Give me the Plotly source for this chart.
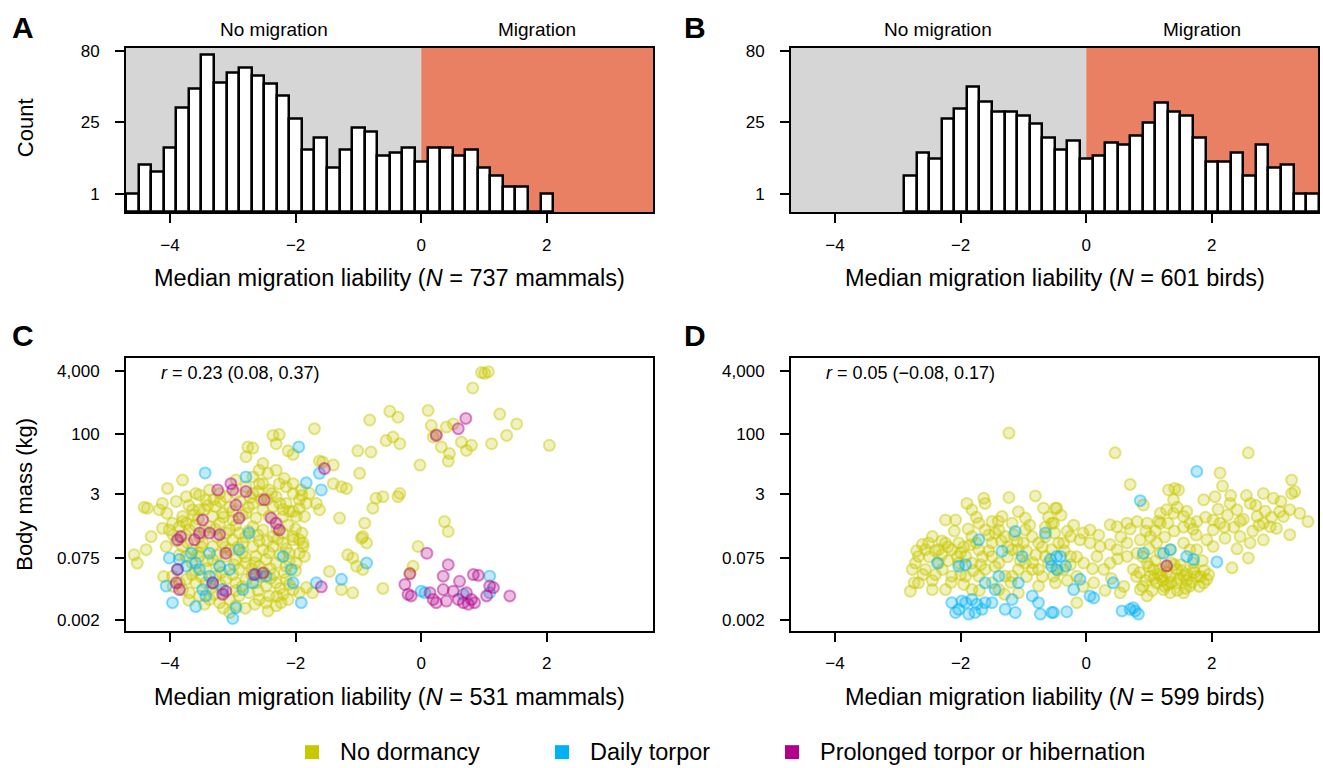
import numpy as np
import plotly.graph_objects as go

W, H = 1323, 768

# ---------------- DATA ----------------
# Histogram bins (width 0.2), centres and counts
mammal_bin_centers = [-4.6, -4.4, -4.2, -4.0, -3.8, -3.6, -3.4, -3.2, -3.0, -2.8, -2.6, -2.4,
                      -2.2, -2.0, -1.8, -1.6, -1.4, -1.2, -1.0, -0.8, -0.6, -0.4, -0.2, 0.0,
                      0.2, 0.4, 0.6, 0.8, 1.0, 1.2, 1.4, 1.6, 1.8, 2.0]
mammal_counts = [1, 7, 5, 13, 34, 47, 77, 52, 60, 65, 58, 51,
                 42, 27, 12, 17, 6, 12, 22, 20, 10, 11, 13, 8,
                 13, 13, 10, 12, 6, 4, 2, 2, 0, 1]

bird_bin_centers = [-2.8, -2.6, -2.4, -2.2, -2.0, -1.8, -1.6, -1.4, -1.2, -1.0, -0.8, -0.6,
                    -0.4, -0.2, 0.0, 0.2, 0.4, 0.6, 0.8, 1.0, 1.2, 1.4, 1.6, 1.8,
                    2.0, 2.2, 2.4, 2.6, 2.8, 3.0, 3.2, 3.4, 3.6]
bird_counts = [4, 11, 9, 27, 33, 49, 38, 31, 31, 29, 24, 17,
               12, 16, 9, 10, 15, 14, 18, 25, 37, 31, 29, 17,
               8, 8, 11, 4, 14, 6, 7, 1, 1]

hist_tick_counts = [1, 25, 80]
mass_ticks = [0.002, 0.075, 3, 100, 4000]
mass_tick_labels = ["0.002", "0.075", "3", "100", "4,000"]
x_ticks = [-4, -2, 0, 2]

# Scatter data: (median migration liability, log10 body mass in kg)
mammal_no_dormancy = [
    (-4.57, -1.05), (-4.52, -1.26), (-4.38, -0.92), (-4.36, 0.13), (-4.41, 0.15), (-4.12, 0.25),
    (-4.17, 0.09), (-4.30, -0.59), (-4.06, -0.84), (-4.04, 0.63), (-3.80, 0.84), (-4.12, -0.38),
    (-3.53, 0.46), (-2.76, 1.68), (-2.68, 1.65), (-2.79, 1.43), (-2.36, 1.97), (-2.26, 1.99),
    (-2.31, 1.76), (-1.70, 2.14), (-2.12, 1.58), (-2.04, 1.49), (-0.82, 2.36), (-0.50, 2.58),
    (-0.37, 2.43), (-0.56, 1.84), (-0.45, 1.93), (-1.01, 1.58), (-0.80, 1.55), (-1.57, 1.30),
    (-1.40, 1.22), (-1.62, 1.32), (-0.98, 1.01), (-1.40, 0.75), (-1.27, 0.67), (-1.19, 0.63),
    (-0.72, 0.38), (-0.61, 0.42), (-0.37, 0.42), (-0.77, 0.13), (-1.30, -0.12), (-0.90, -0.25),
    (-0.93, -0.59), (-0.87, -0.75), (-0.95, -0.63), (-1.17, -1.05), (-1.09, -1.13), (-1.03, -1.34),
    (-0.93, -1.42), (-1.46, -1.47), (-1.27, -1.93), (-1.09, -2.01), (-0.61, -1.90), (-1.73, -2.01),
    (-1.83, -1.88), (-2.12, -2.18), (-2.23, -2.26), (-2.44, -2.47), (-2.31, -2.34),
    (-1.62, 0.09), (-1.67, 0.25), (-1.78, 0.50), (-1.91, 0.59), (-2.04, 0.75), (-2.18, 0.88),
    (-2.44, 1.01), (-2.58, 1.09), (-2.52, 1.26), (-1.94, 0.13), (-2.04, 0.05), (-1.86, -0.08),
    (-1.88, -0.75), (-2.04, -0.67), (-1.94, -1.01), (-1.86, -1.09),
    (-3.74, 0.42), (-3.59, 0.50), (-3.43, 0.34), (-3.27, 0.17), (-3.11, 0.42), (-2.95, 0.50),
    (-2.79, 0.67), (-2.68, 0.50), (-2.58, 0.75), (-2.42, 0.59), (-2.31, 0.42), (-2.15, 0.67),
    (-2.04, 0.50), (-1.94, 0.34), (-1.83, 0.25), (-2.68, 0.25), (-2.52, 0.09), (-2.36, 0.17),
    (-2.15, 0.25), (-1.99, -0.08), (-3.32, -0.08), (-3.16, 0.00), (-3.00, -0.17), (-2.79, 0.00),
    (-2.63, -0.12), (-2.42, -0.08), (-2.20, -0.08), (-3.64, 0.09), (-3.80, -0.08), (-3.96, -0.25),
    (-3.74, -0.25), (-3.53, 0.09), (-3.21, 0.50), (-3.37, 0.59), (-2.95, 0.84), (-2.68, 0.92),
    (-2.52, 0.75), (-2.26, 0.75), (-2.31, 1.09),
    (-4.01, -0.42), (-3.85, -0.34), (-3.69, -0.42), (-3.53, -0.59), (-3.37, -0.34), (-3.21, -0.25),
    (-3.05, -0.42), (-2.90, -0.50), (-2.68, -0.34), (-2.52, -0.42), (-2.36, -0.59), (-2.20, -0.50),
    (-2.04, -0.59), (-1.94, -0.67), (-1.88, -0.84), (-3.80, -0.84), (-3.64, -0.92), (-3.48, -0.75),
    (-3.32, -0.84), (-3.16, -0.75), (-3.00, -0.67), (-2.84, -0.75), (-2.68, -0.84), (-2.52, -0.92),
    (-2.36, -0.84), (-2.20, -0.75), (-2.10, -1.01), (-1.99, -1.26), (-3.74, -1.09), (-3.53, -1.09),
    (-3.32, -1.17), (-3.11, -1.09), (-2.95, -1.17), (-2.79, -1.26), (-2.63, -1.09), (-2.47, -1.17),
    (-2.31, -1.26), (-2.15, -1.34), (-3.05, -0.92), (-3.21, -1.34), (-2.90, -1.42), (-2.58, -1.34),
    (-3.96, -1.59), (-3.74, -1.67), (-3.59, -1.76), (-3.43, -1.76), (-3.27, -1.59), (-3.11, -1.67),
    (-2.95, -1.76), (-2.79, -1.67), (-2.63, -1.76), (-2.47, -1.84), (-2.31, -1.76), (-2.15, -1.67),
    (-2.04, -1.93), (-1.94, -2.01), (-2.42, -2.09), (-2.58, -2.18), (-2.74, -2.01), (-2.90, -2.09),
    (-3.05, -2.18), (-3.21, -2.26), (-3.37, -2.18), (-3.53, -2.09), (-3.69, -2.01), (-3.80, -1.93),
    (-2.95, -2.34), (-3.05, -2.51), (-2.47, -2.26),
    (-3.90, 0.30), (-3.70, 0.20), (-3.45, 0.10), (-3.30, 0.35), (-3.05, 0.15), (-2.88, 0.30),
    (-2.72, 0.40), (-2.45, 0.35), (-2.25, 0.25), (-2.10, 0.05), (-1.90, 0.45), (-2.60, 0.55),
    (-2.85, -0.05), (-3.15, -0.10), (-3.55, -0.15), (-4.05, 0.00), (-3.95, -0.55),
    (-3.90, -0.70), (-3.75, -0.55), (-3.60, -0.30), (-3.45, -0.45), (-3.25, -0.60), (-3.10, -0.50),
    (-2.95, -0.30), (-2.80, -0.60), (-2.60, -0.55), (-2.45, -0.70), (-2.30, -0.40), (-2.12, -0.30),
    (-2.00, -0.40), (-1.90, -0.50), (-3.55, -1.00), (-3.40, -1.20), (-3.25, -1.05), (-2.85, -1.00),
    (-2.70, -1.40), (-2.40, -1.40), (-2.25, -1.05), (-2.10, -1.20), (-2.00, -1.45), (-3.85, -1.05),
    (-3.65, -1.25),
    (-3.85, -1.75), (-3.65, -1.55), (-3.50, -1.60), (-3.35, -1.90), (-3.20, -1.80), (-3.00, -1.55),
    (-2.85, -1.85), (-2.70, -1.55), (-2.55, -1.60), (-2.40, -1.65), (-2.25, -1.90), (-2.10, -1.80),
    (-2.20, -2.05), (-2.65, -2.30), (-2.80, -2.40), (-3.15, -2.40), (-3.45, -2.30), (-3.70, -2.20),
    (-3.95, -1.85), (-4.10, -1.60),
    (-3.80, -0.20), (-3.62, -0.05), (-3.40, 0.20), (-3.20, 0.30), (-3.00, 0.05), (-2.75, 0.15),
    (-2.55, 0.35), (-2.38, 0.50), (-2.20, 0.10), (-3.72, -0.75), (-3.50, -0.85), (-3.28, -0.40),
    (-3.12, -0.85), (-2.92, -0.85), (-2.75, -0.45), (-2.58, -0.70), (-2.42, -1.00), (-2.28, -0.65),
    (-2.15, -0.90), (-3.60, -1.45), (-3.42, -1.40), (-3.18, -1.50), (-2.98, -1.30), (-2.80, -1.10),
    (-2.65, -1.25), (-2.50, -1.50), (-2.35, -1.55), (-2.18, -1.50), (-3.30, -2.05), (-2.95, -1.95),
    (-2.60, -1.95), (-2.30, -2.10),
    (0.96, 3.56), (1.07, 3.58), (1.01, 3.54), (0.82, 3.17), (0.11, 2.60), (1.25, 2.51),
    (1.52, 2.26), (0.16, 2.22), (0.19, 1.93), (0.40, 2.18), (0.51, 2.26), (0.24, 1.99),
    (-0.34, 1.76), (0.32, 1.68), (0.45, 1.51), (0.43, 1.32), (0.64, 1.80), (0.72, 1.59),
    (0.80, 1.72), (1.12, 1.76), (1.36, 1.97), (2.04, 1.72), (-0.02, 1.22), (-0.34, 0.50),
    (0.37, -0.21), (0.43, -0.46), (-0.05, -0.84), (-0.13, -1.34), (-0.18, -1.51),
]

mammal_daily_torpor = [
    (-3.44, 1.02), (-1.95, 1.68), (-2.79, 0.92), (-1.83, 0.77), (-1.62, 1.01), (-1.59, 0.59),
    (-0.87, -1.26), (-1.27, -1.67), (-1.67, -1.76), (-3.96, -2.26), (-3.59, -2.36), (-3.00, -2.66),
    (-1.91, -2.26), (-2.95, -2.39), (-4.06, -1.84), (-4.01, -1.13), (-3.43, -2.09),
    (-3.53, -1.42), (-3.37, -1.59), (-3.21, -1.34), (-2.74, -0.50), (-2.63, -1.55), (-2.47, -1.59),
    (-3.74, -1.34), (-3.85, -1.17), (-3.16, -1.93), (-2.84, -1.93), (-2.90, -0.92), (-2.07, -1.42),
    (-2.20, -1.09), (-2.04, -1.76), (-3.37, -1.01), (-3.48, -1.93), (-3.59, -1.26), (-3.05, -1.42),
    (-3.32, -1.76), (-2.68, -1.76), (-3.66, -1.01), (-3.88, -1.42),
    (1.09, -1.59), (0.06, -2.01), (0.67, -2.05), (1.09, -2.01), (0.00, -1.97),
]

mammal_hibernation = [
    (-3.03, 0.75), (-3.00, 0.59), (-3.24, 0.59), (-2.79, 0.55), (-2.95, 0.21), (-2.90, -0.12),
    (-2.50, 0.34), (-3.48, -0.17), (-3.37, -0.50), (-3.53, -0.50), (-3.21, -0.54), (-3.88, -0.67),
    (-3.83, -0.59), (-3.61, -0.67), (-2.31, -0.25), (-2.39, -0.12), (-2.26, -0.42), (-1.54, 1.13),
    (-1.59, -1.86), (-3.16, -2.05), (-3.11, -1.97), (-2.52, -1.51), (-2.66, -1.55), (-3.88, -1.42),
    (-3.90, -1.76), (-3.85, -1.93), (-3.32, -1.76), (-3.11, -1.01),
    (0.71, 2.40), (0.59, 2.14), (0.24, 1.97), (0.09, -1.01), (0.43, -1.30), (0.35, -1.59),
    (0.61, -1.72), (0.83, -1.55), (0.91, -1.57), (1.09, -1.84), (1.15, -1.88), (1.41, -2.09),
    (-0.18, -1.53), (-0.26, -1.80), (-0.21, -2.05), (-0.16, -2.09), (0.19, -2.18), (0.24, -2.26),
    (0.40, -2.22), (0.59, -2.18), (0.75, -2.30), (0.80, -2.18), (0.72, -2.01), (0.51, -1.97),
    (1.04, -2.09), (0.14, -2.01), (0.35, -1.93), (0.85, -2.26), (0.67, -2.26),
]

bird_no_dormancy = [
    (-1.23, 2.03), (-1.23, 0.40), (-0.81, 0.44), (-1.63, 0.38), (-1.61, 0.25), (-1.90, 0.25),
    (-1.82, 0.09), (-2.24, -0.17), (-2.08, -0.17), (-0.68, 0.13), (-0.49, 0.13), (-1.08, 0.04),
    (-0.97, -0.12), (-1.34, -0.08), (-1.50, -0.21), (-1.71, -0.25), (-2.51, -0.75), (-2.61, -0.79),
    (-2.45, -0.59), (-2.35, -0.92), (-2.67, -1.09), (-2.72, -1.26), (-2.77, -1.42), (-2.74, -1.76),
    (-2.80, -1.97), (-2.67, -1.76), (-2.29, -1.42), (-2.24, -1.93), (-2.14, -1.59), (-2.03, -0.75),
    (-1.92, -1.09), (-1.82, -0.59), (-1.71, -0.92), (-1.61, -1.42), (-1.50, -0.75), (-1.39, -1.26),
    (-1.29, -0.59), (-1.18, -1.59), (-1.08, -0.92), (-0.97, -0.42), (-0.86, -1.42), (-0.76, -0.75),
    (-0.65, -1.09), (-0.55, -0.25), (-0.49, -1.76), (-0.44, -0.75), (-1.82, -1.93), (-1.39, -1.93),
    (-1.08, -2.01), (-0.76, -1.84), (-1.92, -1.59), (-1.71, -1.59), (-1.50, -1.76), (-1.29, -1.59),
    (-0.97, -1.26), (-0.76, -1.42), (-2.14, -0.92), (-2.03, -1.26), (-2.24, -0.75), (-1.61, -0.42),
    (-1.39, -0.42), (-1.18, -0.25), (-0.86, -0.59), (-0.55, -0.92), (-0.65, -0.59), (-1.82, -1.26),
    (-1.50, -1.09), (-1.18, -0.92), (-1.08, -1.42), (-2.45, -1.93), (-2.35, -1.26), (-2.56, -1.42),
    (-2.56, -0.92),
    (-2.50, -1.10), (-2.40, -1.55), (-2.30, -0.70), (-2.20, -1.20), (-2.10, -0.45), (-2.00, -1.00),
    (-1.95, -1.80), (-1.85, -0.80), (-1.80, -1.45), (-1.75, -0.10), (-1.65, -1.10), (-1.55, -0.55),
    (-1.45, -1.35), (-1.40, -0.20), (-1.35, -0.70), (-1.25, -1.10), (-1.20, -1.75), (-1.15, -0.55),
    (-1.05, -1.20), (-1.00, -0.75), (-0.95, -1.60), (-0.90, -0.30), (-0.80, -1.05), (-0.70, -1.60),
    (-0.65, -0.35), (-0.60, -1.25), (-0.50, -0.50), (-0.45, -1.45), (-0.40, -0.05), (-0.35, -0.95),
    (-0.30, -1.70), (-0.20, -0.30), (-0.15, -1.10), (-0.05, -1.85), (-0.05, -0.50), (-2.60, -1.55),
    (-2.70, -0.95), (-2.15, -1.75), (-1.70, -1.95), (-1.30, -2.05),
    (-2.40, -0.95), (-2.30, -1.05), (-2.20, -0.85), (-2.05, -1.10), (-1.95, -0.85), (-1.88, -0.40),
    (-1.75, -0.75), (-1.68, -1.30), (-1.55, -0.95), (-1.45, -0.50), (-1.25, -0.85), (-1.10, -0.70),
    (-0.95, -0.95), (-0.85, -1.25), (-0.70, -0.85), (-0.60, -0.10), (-0.30, -0.45), (-0.25, -1.30),
    (-2.45, -1.70), (-2.00, -1.55),
    (0.46, 1.53), (2.58, 1.53), (0.70, 0.73), (2.13, 1.02), (2.17, 0.69), (3.27, 0.84),
    (3.32, 0.55), (3.27, 0.50), (3.53, -0.21), (2.82, 0.50), (2.98, 0.38), (1.87, 0.34),
    (2.05, 0.42), (1.41, 0.63), (1.31, 0.59), (1.47, 0.59), (1.39, 0.34), (0.91, 0.21),
    (-0.47, 0.13), (-0.52, -0.25), (0.38, -0.29), (0.49, -0.34), (0.65, -0.25), (0.81, -0.21),
    (0.97, -0.25), (1.18, 0.00), (1.28, 0.09), (1.39, 0.00), (1.55, -0.08), (1.65, -0.25),
    (1.76, -0.21), (1.18, -0.25), (2.02, -0.17), (2.13, -0.25), (2.29, 0.25), (2.40, 0.09),
    (2.61, 0.25), (2.72, -0.08), (2.82, -0.25), (2.93, -0.34), (3.03, -0.38), (3.14, -0.08),
    (3.24, 0.09), (3.08, 0.04), (3.24, -0.54), (2.82, -0.67), (2.61, -0.75), (2.58, -1.13),
    (2.32, -1.38), (2.45, -0.59), (2.21, -0.63), (2.02, -0.84), (2.02, -0.42), (1.92, -0.67),
    (1.76, -0.92), (0.06, -0.42), (-0.25, -0.59), (-0.36, -0.75), (-0.10, -0.67), (0.22, -0.84),
    (0.38, -0.79), (0.65, -0.75), (0.86, -0.67), (1.02, -0.59), (1.12, -0.75), (1.55, -0.75),
    (1.65, -0.92), (-0.52, -1.59), (-0.36, -1.42), (-0.15, -1.59), (-0.15, -2.26), (0.12, -1.76),
    (0.28, -1.42), (0.38, -1.26), (0.54, -2.01), (0.65, -1.09), (0.75, -1.42), (0.86, -1.93),
    (0.97, -2.09), (0.97, -1.26), (1.02, -1.59), (1.12, -1.76), (1.18, -1.42), (1.23, -1.93),
    (1.34, -1.59), (1.44, -1.76), (1.55, -1.59), (1.65, -1.84), (1.76, -1.59), (1.87, -1.76),
    (1.92, -1.67), (1.34, -2.01), (1.55, -2.01), (1.07, -1.42), (1.28, -1.34), (1.71, -1.42),
    (1.44, -1.42), (1.18, -1.01), (1.34, -0.92), (0.81, -1.01), (0.49, -0.92), (0.17, -1.09),
    (-0.04, -1.26), (-0.25, -1.09), (0.06, -0.75),
    (0.10, -1.40), (0.20, -0.55), (0.30, -1.95), (0.40, -1.65), (0.50, -1.15), (0.55, -0.60),
    (0.60, -1.85), (0.70, -0.40), (0.80, -1.60), (0.90, -1.10), (0.95, -0.45), (1.05, -1.95),
    (1.10, -1.20), (1.15, -0.20), (1.20, -1.60), (1.25, -0.60), (1.30, -1.80), (1.35, -1.25),
    (1.40, -0.45), (1.45, -1.95), (1.50, -1.30), (1.55, -0.35), (1.60, -1.70), (1.70, -1.25),
    (1.75, -0.55), (1.80, -1.85), (1.85, -1.20), (1.95, -1.55), (1.90, -0.10), (2.25, -0.05),
    (2.35, -0.35), (2.50, -0.15), (2.55, 0.45), (2.70, 0.20), (2.85, 0.05), (2.95, -0.10),
    (3.10, 0.30), (3.40, 0.00), (2.65, -0.45), (2.40, -0.90),
    (0.85, -1.50), (0.95, -1.70), (1.00, -1.35), (1.08, -1.65), (1.15, -1.55), (1.22, -1.70),
    (1.28, -1.50), (1.35, -1.75), (1.40, -1.30), (1.48, -1.65), (1.52, -1.45), (1.60, -1.55),
    (1.68, -1.75), (1.72, -1.50), (1.82, -1.60), (1.88, -1.45), (0.90, -1.85), (1.25, -1.85),
    (1.58, -1.90), (1.00, -0.90), (1.10, -0.45), (1.30, -0.25), (1.45, 0.15), (1.60, 0.05),
    (1.70, -0.40), (2.10, 0.10), (2.20, -0.35), (2.30, 0.45), (2.45, -0.20), (2.75, -0.30),
]

bird_daily_torpor = [
    (-2.37, -1.26), (-2.03, -1.34), (-1.92, -1.30), (-1.71, -0.67), (-1.34, -0.96), (-1.13, -0.46),
    (-1.02, -1.09), (-0.65, -0.50), (-1.39, -1.59), (-1.61, -1.76), (-1.45, -1.93), (-1.08, -1.76),
    (-0.55, -1.34), (-0.47, -1.09), (-2.14, -2.26), (-2.03, -2.43), (-1.92, -2.26), (-1.82, -2.18),
    (-1.74, -2.30), (-1.66, -2.43), (-1.61, -2.26), (-1.87, -2.55), (-2.08, -2.51), (-1.98, -2.22),
    (-1.77, -2.51), (-1.50, -2.26), (-1.29, -2.43), (-1.13, -2.51), (-0.76, -2.26), (-0.73, -2.55),
    (-0.55, -2.51), (-0.86, -2.09), (-1.18, -2.18),
    (1.76, 1.06), (0.86, 0.32), (2.08, -1.23), (1.71, -1.17), (1.60, -1.09), (-0.41, -1.09),
    (-0.33, -1.34), (-0.47, -1.42), (-0.52, -2.51), (-0.31, -2.49), (0.06, -2.09), (0.12, -2.14),
    (-0.20, -1.93), (-0.10, -1.67), (0.43, -1.76), (0.91, -1.01), (1.23, -1.01), (1.34, -0.92),
    (0.57, -2.47), (0.70, -2.43), (0.78, -2.47), (0.83, -2.55), (0.75, -2.39), (-0.57, -1.17),
]

bird_hibernation = [
    (1.28, -1.33),
]

# ---------------- STYLE ----------------
FONT = "Liberation Sans, Arial, Helvetica, sans-serif"
GREY = "#D6D6D6"
ORANGE = "#E98063"
COLORS = {
    "none": (200, 200, 0),
    "daily": (0, 178, 245),
    "hib": (178, 0, 140),
}
X_RANGE = [-4.7, 3.69]
HIST_TOP = 9.15  # sqrt(count) units
LOG_RANGE = [-2.975, 3.936]

# pixel geometry of the panels
AX_L = (126, 653)
AX_R = (791, 1318)
AX_TOP = (43, 208.5)
AX_BOT = (355, 630)


def xd(p):
    return [p[0] / W, p[1] / W]


def yd(p):
    return [1 - p[1] / H, 1 - p[0] / H]


fig = go.Figure()

# Histograms (square-root count axis)
for cents, cnts, xa, ya in [(mammal_bin_centers, mammal_counts, "x", "y"),
                            (bird_bin_centers, bird_counts, "x2", "y2")]:
    fig.add_trace(go.Bar(
        x=cents, y=np.sqrt(np.array(cnts, dtype=float)), width=0.2,
        marker=dict(color="white", line=dict(color="black", width=2.5)),
        xaxis=xa, yaxis=ya, showlegend=False, hoverinfo="skip"))


def add_points(pts, key, xa, ya):
    if not pts:
        return
    xs = [p[0] for p in pts]
    ys = [10 ** p[1] for p in pts]
    r, g, b = COLORS[key]
    fig.add_trace(go.Scatter(
        x=xs, y=ys, mode="markers", xaxis=xa, yaxis=ya, showlegend=False,
        hoverinfo="skip",
        marker=dict(size=11, color=f"rgba({r},{g},{b},0.26)",
                    line=dict(color=f"rgba({r},{g},{b},0.45)", width=2))))


add_points(mammal_no_dormancy, "none", "x3", "y3")
add_points(mammal_daily_torpor, "daily", "x3", "y3")
add_points(mammal_hibernation, "hib", "x3", "y3")
add_points(bird_no_dormancy, "none", "x4", "y4")
add_points(bird_daily_torpor, "daily", "x4", "y4")
add_points(bird_hibernation, "hib", "x4", "y4")

common = dict(showline=True, linecolor="black", linewidth=2, mirror=True,
              ticks="outside", ticklen=9, tickwidth=1.5, tickcolor="black",
              showgrid=False, zeroline=False,
              tickfont=dict(family=FONT, size=17, color="black"))

xcommon = dict(common, range=X_RANGE, tickvals=x_ticks, ticklabelstandoff=7)
hist_y = dict(common, range=[0, HIST_TOP],
              tickvals=list(np.sqrt(hist_tick_counts)),
              ticktext=[str(c) for c in hist_tick_counts], ticklabelstandoff=12)
mass_y = dict(common, type="log", range=LOG_RANGE, tickvals=mass_ticks,
              ticktext=mass_tick_labels, ticklabelstandoff=12)

fig.update_layout(
    width=W, height=H, margin=dict(l=0, r=0, t=0, b=0),
    paper_bgcolor="white", plot_bgcolor="white",
    font=dict(family=FONT, color="black"),
    bargap=0,
    xaxis=dict(xcommon, domain=xd(AX_L), anchor="y"),
    yaxis=dict(hist_y, domain=yd(AX_TOP), anchor="x"),
    xaxis2=dict(xcommon, domain=xd(AX_R), anchor="y2"),
    yaxis2=dict(hist_y, domain=yd(AX_TOP), anchor="x2"),
    xaxis3=dict(xcommon, domain=xd(AX_L), anchor="y3"),
    yaxis3=dict(mass_y, domain=yd(AX_BOT), anchor="x3"),
    xaxis4=dict(xcommon, domain=xd(AX_R), anchor="y4"),
    yaxis4=dict(mass_y, domain=yd(AX_BOT), anchor="x4"),
)

# background regions of histograms
shapes = []
for xr, yr in [("x", "y"), ("x2", "y2")]:
    shapes.append(dict(type="rect", xref=xr, yref=yr, x0=X_RANGE[0], x1=0, y0=0, y1=HIST_TOP,
                       fillcolor=GREY, line=dict(width=0), layer="below"))
    shapes.append(dict(type="rect", xref=xr, yref=yr, x0=0, x1=X_RANGE[1], y0=0, y1=HIST_TOP,
                       fillcolor=ORANGE, line=dict(width=0), layer="below"))

annotations = []


def ann(text, px, py, size, **kw):
    d = dict(text=text, x=px / W, y=1 - py / H, xref="paper", yref="paper",
             showarrow=False, font=dict(family=FONT, size=size, color="black"),
             xanchor="center", yanchor="middle")
    d.update(kw)
    annotations.append(d)


# panel letters
ann("<b>A</b>", 23, 23, 30)
ann("<b>B</b>", 695, 23, 30)
ann("<b>C</b>", 23, 333, 30)
ann("<b>D</b>", 695, 333, 30)

# region labels
ann("No migration", 274, 25, 19)
ann("Migration", 537, 25, 19)
ann("No migration", 938, 25, 19)
ann("Migration", 1202, 25, 19)

# axis titles
ann("Count", 25, 124, 22, textangle=-90)
ann("Body mass (kg)", 25, 493, 22, textangle=-90)
ann("Median migration liability (<i>N</i> = 737 mammals)", 389.5, 275, 23.5)
ann("Median migration liability (<i>N</i> = 601 birds)", 1054.5, 275, 23.5)
ann("Median migration liability (<i>N</i> = 531 mammals)", 389.5, 697, 23.5)
ann("Median migration liability (<i>N</i> = 599 birds)", 1054.5, 697, 23.5)

# correlations
ann("<i>r</i> = 0.23 (0.08, 0.37)", 159, 370, 18, xanchor="left")
ann("<i>r</i> = 0.05 (\u22120.08, 0.17)", 824, 370, 18, xanchor="left")

# legend (manual)
legend_items = [("No dormancy", "none", 312), ("Daily torpor", "daily", 562),
                ("Prolonged torpor or hibernation", "hib", 792)]
for label, key, cx in legend_items:
    r, g, b = COLORS[key]
    shapes.append(dict(type="rect", xref="paper", yref="paper",
                       x0=(cx - 7) / W, x1=(cx + 7) / W,
                       y0=1 - 759 / H, y1=1 - 745 / H,
                       fillcolor=f"rgb({r},{g},{b})", line=dict(width=0)))
    ann(label, cx + 26, 752, 23.5, xanchor="left")

fig.update_layout(shapes=shapes, annotations=annotations)

fig.write_html("out.html")
